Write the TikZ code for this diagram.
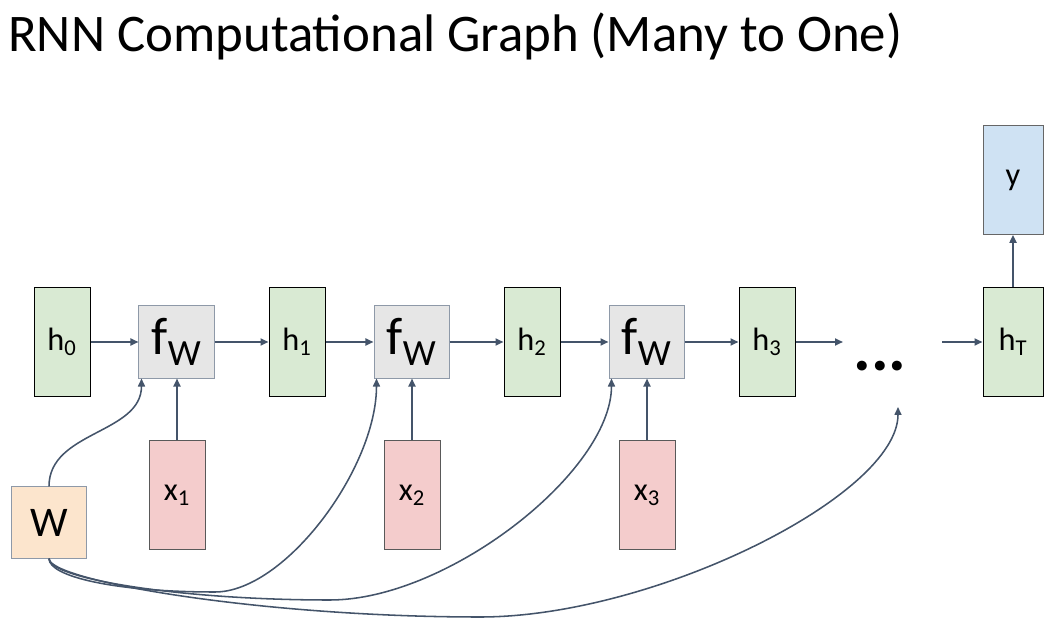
\documentclass[tikz,border=0pt]{standalone}
\usepackage{fontspec}
\setmainfont{Carlito}
\usepackage{tikz}
\usetikzlibrary{calc,arrows.meta}
\definecolor{hgreen}{HTML}{D9EAD3}
\definecolor{xred}{HTML}{F4CCCC}
\definecolor{fgray}{HTML}{E6E6E6}
\definecolor{worange}{HTML}{FCE5CD}
\definecolor{yblue}{HTML}{CFE2F3}
\definecolor{edgegray}{HTML}{8E99A8}
\definecolor{flowblue}{HTML}{44546A}
\tikzset{
	box/.style={draw,line width=0.7pt,inner sep=0pt,minimum width=1.4cm,minimum height=2.72cm,
		font=\fontsize{23}{25}\selectfont},
	hbox/.style={box,fill=hgreen,draw=black},
	xbox/.style={box,fill=xred,draw=black!65},
	ybox/.style={box,fill=yblue,draw=black!60,minimum width=1.5cm},
	fbox/.style={box,fill=fgray,draw=edgegray,minimum width=1.875cm,minimum height=1.8cm,
		font=\fontsize{37.6}{40}\selectfont},
	wbox/.style={box,fill=worange,draw=edgegray,minimum width=1.85cm,minimum height=1.78cm,
		font=\fontsize{30}{32}\selectfont},
	arr/.style={-{Triangle[length=2mm,width=1.75mm]},draw=flowblue,line width=1.4pt},
	warr/.style={arr,line width=1.1pt}
}

\begin{document}
\begin{tikzpicture}[x=0.025cm,y=0.025cm]
	\useasboundingbox (0,0) rectangle (1060,625);
	
	\node[anchor=base west,inner sep=0pt,font=\fontsize{37.6}{40}\selectfont] (title) at (8,573)
	{RNN Computational Graph (Many to One)};
	
	% hidden states and cells
	\node[hbox] (h0) at (62,283) {h\textsubscript{0}};
	\node[fbox] (f1) at (176.5,283) {f\textsubscript{W}};
	\node[hbox] (h1) at (297,283) {h\textsubscript{1}};
	\node[fbox] (f2) at (411.5,283) {f\textsubscript{W}};
	\node[hbox] (h2) at (532,283) {h\textsubscript{2}};
	\node[fbox] (f3) at (646.5,283) {f\textsubscript{W}};
	\node[hbox] (h3) at (767,283) {h\textsubscript{3}};
	\node[inner sep=0pt,font=\bfseries\fontsize{47}{50}\selectfont] (dots) at (880,259) {...};
	\node[hbox,minimum width=1.5cm] (hT) at (1013,283) {h\textsubscript{T}};
	\node[ybox] (y) at (1013,445) {y};
	
	% inputs and weights
	\node[xbox] (x1) at (177,130) {x\textsubscript{1}};
	\node[xbox] (x2) at (412,130) {x\textsubscript{2}};
	\node[xbox] (x3) at (647,130) {x\textsubscript{3}};
	\node[wbox] (W) at (49,102.5) {W};
	
	\coordinate (dotsin) at (843,283);
	\coordinate (dotsout) at (942,283);
	\coordinate (wend) at (898,218);
	\coordinate (low1) at (215,33);
	\coordinate (low2) at (330,25);
	\coordinate (low3) at (480,8);
	
	\draw[arr] (h0.east) -- (f1.west);
	\draw[arr] (f1.east) -- (h1.west);
	\draw[arr] (h1.east) -- (f2.west);
	\draw[arr] (f2.east) -- (h2.west);
	\draw[arr] (h2.east) -- (f3.west);
	\draw[arr] (f3.east) -- (h3.west);
	\draw[arr] (h3.east) -- (dotsin);
	\draw[arr] (dotsout) -- (hT.west);
	\draw[arr] (hT.north) -- (y.south);
	\draw[arr] (x1.north) -- (x1.north |- f1.south);
	\draw[arr] (x2.north) -- (x2.north |- f2.south);
	\draw[arr] (x3.north) -- (x3.north |- f3.south);
	
	% shared weights
	\draw[warr] (W.north) to[out=90,in=-90] ($(f1.south west)+(3,0)$);
	\draw[warr] (W.south) .. controls +(0,-18) and +(-100,0) .. (low1)
	.. controls +(70,0) and +(0,-90) .. ($(f2.south west)+(3,0)$);
	\draw[warr] (W.south) .. controls +(0,-20) and +(-150,0) .. (low2)
	.. controls +(118,0) and +(0,-93) .. ($(f3.south west)+(3,0)$);
	\draw[warr] (W.south) .. controls +(0,-22) and +(-220,0) .. (low3)
	.. controls +(175,0) and +(0,-88) .. (wend);
\end{tikzpicture}
\end{document}
